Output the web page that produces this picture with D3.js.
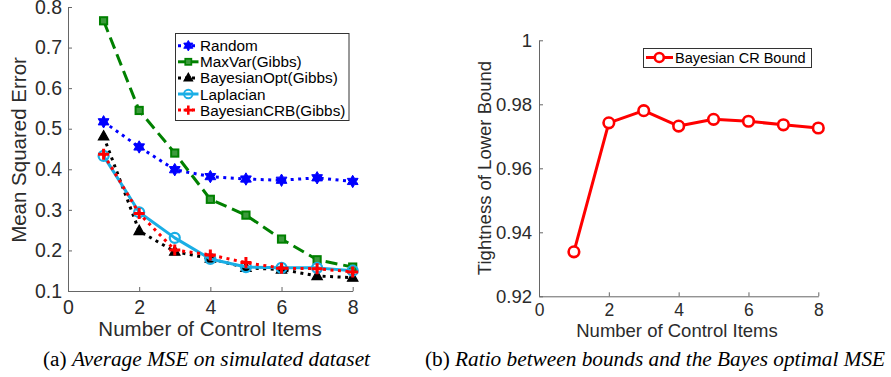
<!DOCTYPE html>
<html><head><meta charset="utf-8">
<script src="https://cdn.jsdelivr.net/npm/d3@7/dist/d3.min.js"></script>
<style>
html,body{margin:0;padding:0;background:#fff;}
svg text{font-family:"Liberation Sans",Arial,sans-serif;}
</style></head>
<body>
<svg id="c" width="891" height="377"></svg>
<script>
// ---------- data ----------
const items = [1, 2, 3, 4, 5, 6, 7, 8];
const randomMSE      = [0.517, 0.455, 0.399, 0.382, 0.376, 0.373, 0.379, 0.370];
const maxVarMSE      = [0.766, 0.545, 0.440, 0.326, 0.287, 0.228, 0.177, 0.159];
const bayesOptMSE    = [0.481, 0.248, 0.197, 0.180, 0.157, 0.153, 0.137, 0.133];
const laplacianMSE   = [0.433, 0.294, 0.231, 0.179, 0.159, 0.157, 0.157, 0.150];
const bayesCRBMSE    = [0.437, 0.291, 0.201, 0.189, 0.170, 0.156, 0.155, 0.147];
const tightnessCRB   = [0.9339, 0.9742, 0.9780, 0.9732, 0.9753, 0.9747, 0.9736, 0.9726];
const xTicks = [0, 2, 4, 6, 8];
const yTicksA = [0.1, 0.2, 0.3, 0.4, 0.5, 0.6, 0.7, 0.8];
const yTicksB = [0.92, 0.94, 0.96, 0.98, 1];
const seriesNames = ["Random", "MaxVar(Gibbs)", "BayesianOpt(Gibbs)", "Laplacian", "BayesianCRB(Gibbs)"];
const legendB = "Bayesian CR Bound";
const xLabel = "Number of Control Items";
const yLabelA = "Mean Squared Error";
const yLabelB = "Tightness of Lower Bound";
const captionA = ["(a) ", "Average MSE on simulated dataset"];
const captionB = ["(b) ", "Ratio between bounds and the Bayes optimal MSE"];

const svg = d3.select("#c");
const AX = "#666", TX = "#2b2b2b";

// ---------- marker painters ----------
function hexagram(r){
  const p = [];
  for (let k = 0; k < 12; k++){
    const a = -Math.PI/2 + k*Math.PI/6;
    const rr = (k % 2 === 0) ? r : r*0.58;
    p.push([rr*Math.cos(a), rr*Math.sin(a)]);
  }
  return "M" + p.map(q => q[0].toFixed(2)+","+q[1].toFixed(2)).join("L") + "Z";
}
const markers = {
  hex: (g, c) => g.append("path").attr("d", hexagram(6.2)).attr("fill", c).attr("stroke", c).attr("stroke-width", 1),
  square: (g, c) => g.append("rect").attr("x", -3.6).attr("y", -3.6).attr("width", 7.2).attr("height", 7.2)
                     .attr("fill", "#3c9a3c").attr("stroke", c).attr("stroke-width", 2),
  tri: (g, c) => g.append("path").attr("d", "M0,-5.8L5.2,3.6L-5.2,3.6Z").attr("fill", c).attr("stroke", c).attr("stroke-width", 1.2),
  circle: (g, c) => g.append("circle").attr("r", 5).attr("fill", "none").attr("stroke", c).attr("stroke-width", 2.2),
  plus: (g, c) => g.append("path").attr("d", "M-5.5,0H5.5M0,-5.5V5.5").attr("stroke", c).attr("stroke-width", 3).attr("fill", "none")
};

function drawSeries(g, x, y, vals, st){
  const line = d3.line().x((d, i) => x(items[i])).y(d => y(d));
  g.append("path").datum(vals).attr("d", line)
    .attr("fill", "none").attr("stroke", st.color).attr("stroke-width", st.width)
    .attr("stroke-dasharray", st.dash || null).attr("stroke-linejoin", "round");
  vals.forEach((v, i) => {
    const m = g.append("g").attr("transform", `translate(${x(items[i])},${y(v)})`);
    markers[st.marker](m, st.color);
  });
}

function styleAxis(sel, fs){
  sel.select(".domain").attr("stroke", AX).attr("stroke-width", 1);
  sel.selectAll(".tick line").attr("stroke", AX).attr("stroke-width", 1);
  sel.selectAll(".tick text").attr("fill", TX).style("font-size", fs + "px")
     .style("font-family", "'Liberation Sans', Arial, sans-serif");
}

// ---------- panel (a) ----------
const xA = d3.scaleLinear().domain([0, 8]).range([68, 352.7]);
const yA = d3.scaleLinear().domain([0.1, 0.8]).range([291, 7]);

const gxA = svg.append("g").attr("transform", `translate(0,${yA(0.1)})`)
  .call(d3.axisBottom(xA).tickValues(xTicks).tickFormat(d3.format("d")).tickSizeInner(-4).tickSizeOuter(0).tickPadding(9));
styleAxis(gxA, 19.5);
const gyA = svg.append("g").attr("transform", `translate(${xA(0)},0)`)
  .call(d3.axisLeft(yA).tickValues(yTicksA).tickFormat(d3.format(".1f")).tickSizeInner(-4).tickSizeOuter(0).tickPadding(6));
styleAxis(gyA, 19.5);

const stylesA = [
  {color: "#0000ff", width: 3, dash: "3,4.5", marker: "hex"},
  {color: "#008000", width: 3, dash: "12,6", marker: "square"},
  {color: "#000000", width: 3, dash: "3,4.5", marker: "tri"},
  {color: "#1aaee5", width: 3, dash: null, marker: "circle"},
  {color: "#ff0000", width: 3, dash: "3,4.5", marker: "plus"}
];
const valsA = [randomMSE, maxVarMSE, bayesOptMSE, laplacianMSE, bayesCRBMSE];
const plotA = svg.append("g");
valsA.forEach((v, k) => drawSeries(plotA, xA, yA, v, stylesA[k]));

svg.append("text").attr("x", 210).attr("y", 336).attr("text-anchor", "middle")
  .attr("fill", TX).style("font-size", "20.5px").text(xLabel);
svg.append("text").attr("transform", "translate(25.5,150) rotate(-90)").attr("text-anchor", "middle")
  .attr("fill", TX).style("font-size", "20.5px").text(yLabelA);

// legend (a)
const legA = svg.append("g");
legA.append("rect").attr("x", 175.5).attr("y", 33.5).attr("width", 173.5).attr("height", 87)
  .attr("fill", "#fff").attr("stroke", "#333").attr("stroke-width", 1);
seriesNames.forEach((name, k) => {
  const yy = 45.7 + k * 16.1;
  const st = stylesA[k];
  legA.append("line").attr("x1", 178).attr("x2", 198.5).attr("y1", yy).attr("y2", yy)
    .attr("stroke", st.color).attr("stroke-width", st.width)
    .attr("stroke-dasharray", st.dash === "12,6" ? null : (st.dash ? "3,4" : null));
  const m = legA.append("g").attr("transform", `translate(188.3,${yy}) scale(0.85)`);
  markers[st.marker](m, st.color);
  legA.append("text").attr("x", 200).attr("y", yy).attr("dy", "0.36em")
    .attr("fill", "#000").style("font-size", "15.3px").text(name);
});

// ---------- panel (b) ----------
const xB = d3.scaleLinear().domain([0, 8]).range([539, 818.3]);
const yB = d3.scaleLinear().domain([0.92, 1]).range([296.3, 40.3]);

const gxB = svg.append("g").attr("transform", `translate(0,${yB(0.92)})`)
  .call(d3.axisBottom(xB).tickValues(xTicks).tickFormat(d3.format("d")).tickSizeInner(-4).tickSizeOuter(0).tickPadding(7.5));
styleAxis(gxB, 17.5);
const gyB = svg.append("g").attr("transform", `translate(${xB(0)},0)`)
  .call(d3.axisLeft(yB).tickValues(yTicksB).tickFormat(d => d === 1 ? "1" : d3.format(".2f")(d)).tickSizeInner(-4).tickSizeOuter(0).tickPadding(7));
styleAxis(gyB, 18.5);

const styleB = {color: "#ff0000", width: 3, dash: null, marker: "circle"};
const plotB = svg.append("g");
const lineB = d3.line().x((d, i) => xB(items[i])).y(d => yB(d));
plotB.append("path").datum(tightnessCRB).attr("d", lineB).attr("fill", "none")
  .attr("stroke", styleB.color).attr("stroke-width", 3).attr("stroke-linejoin", "round");
tightnessCRB.forEach((v, i) => {
  plotB.append("circle").attr("cx", xB(items[i])).attr("cy", yB(v)).attr("r", 5.3)
    .attr("fill", "#fff").attr("stroke", styleB.color).attr("stroke-width", 2.6);
});

svg.append("text").attr("x", 677).attr("y", 337).attr("text-anchor", "middle")
  .attr("fill", TX).style("font-size", "18.5px").text(xLabel);
svg.append("text").attr("transform", "translate(491,168) rotate(-90)").attr("text-anchor", "middle")
  .attr("fill", TX).style("font-size", "18.5px").text(yLabelB);

const legB = svg.append("g");
legB.append("rect").attr("x", 643.5).attr("y", 48.5).attr("width", 168).attr("height", 19)
  .attr("fill", "#fff").attr("stroke", "#333").attr("stroke-width", 1);
legB.append("line").attr("x1", 646).attr("x2", 673).attr("y1", 57.5).attr("y2", 57.5)
  .attr("stroke", "#ff0000").attr("stroke-width", 3);
legB.append("circle").attr("cx", 659.3).attr("cy", 57.5).attr("r", 4.5)
  .attr("fill", "#fff").attr("stroke", "#ff0000").attr("stroke-width", 2.6);
legB.append("text").attr("x", 675).attr("y", 57.5).attr("dy", "0.36em")
  .attr("fill", "#000").style("font-size", "14.5px").text(legendB);

// ---------- captions ----------
function caption(cx, parts){
  const t = svg.append("text").attr("x", cx).attr("y", 366).attr("text-anchor", "middle")
    .style("font-family", "'Liberation Serif', 'Times New Roman', serif").style("font-size", "21.3px").attr("fill", "#000");
  t.append("tspan").text(parts[0]);
  t.append("tspan").style("font-style", "italic").text(parts[1]);
}
caption(206.5, captionA);
caption(655, captionB);
</script>
</body></html>
